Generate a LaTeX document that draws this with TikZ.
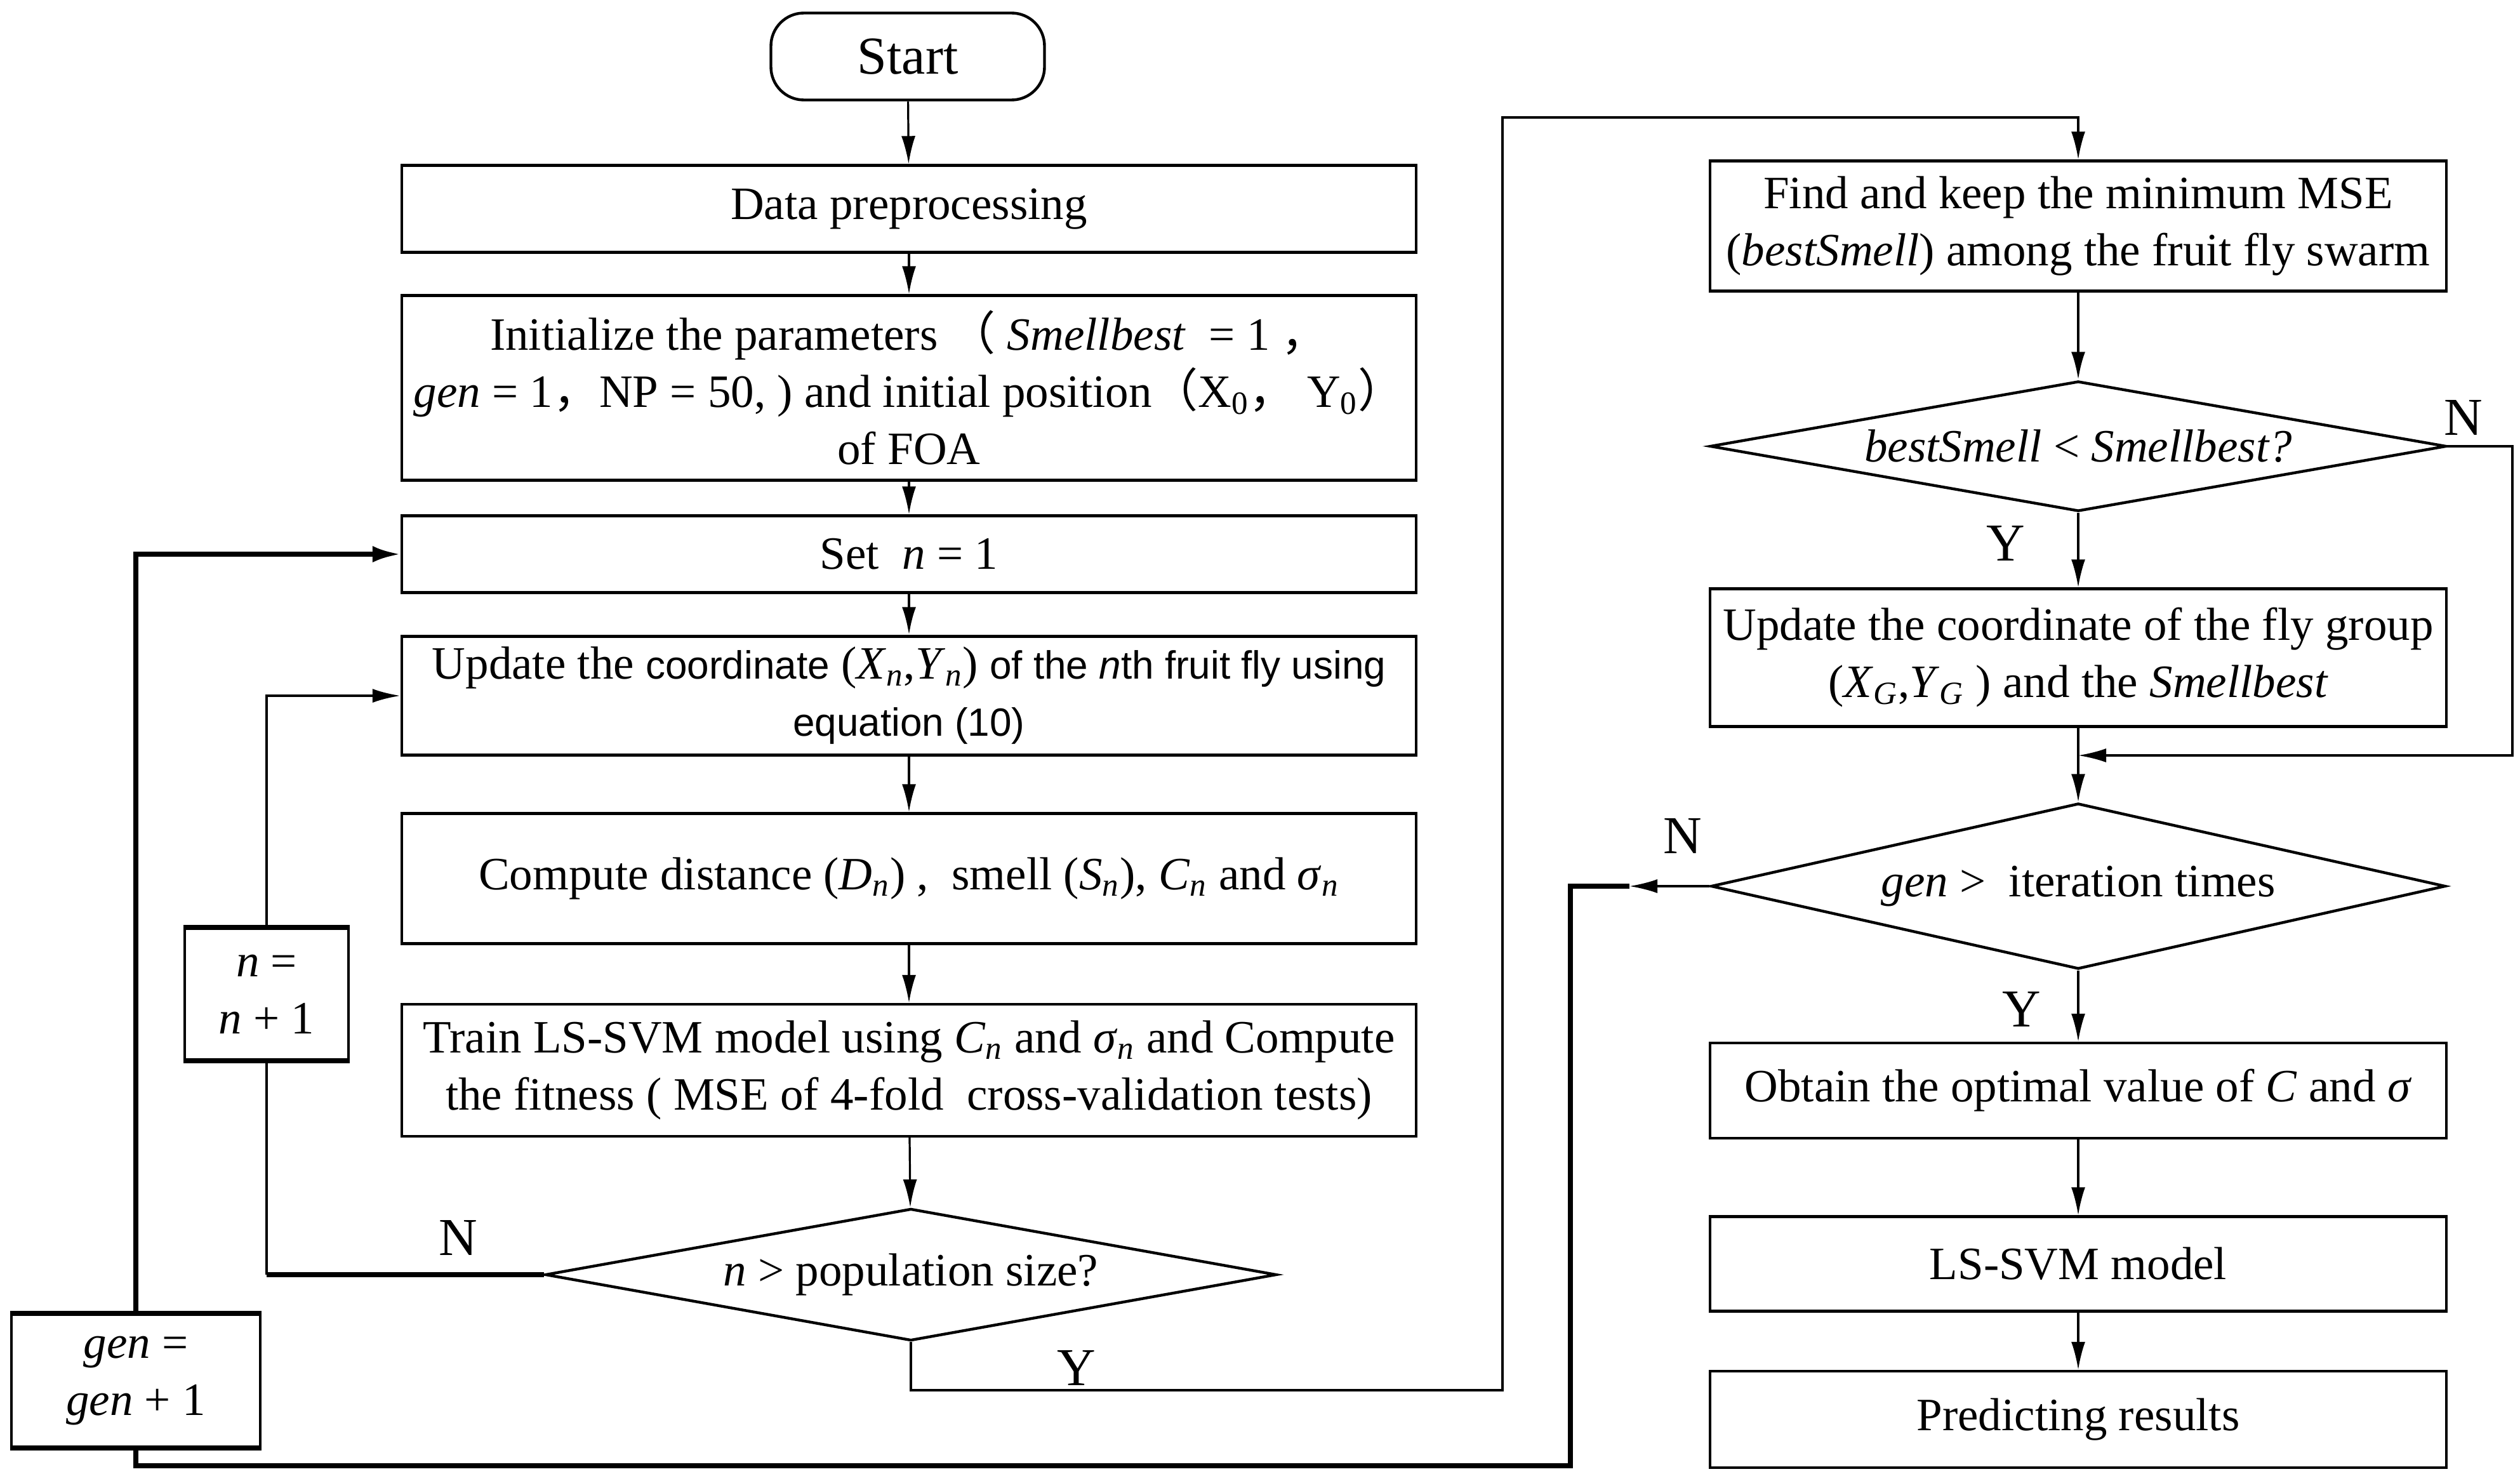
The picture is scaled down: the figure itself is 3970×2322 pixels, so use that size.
\documentclass[tikz,border=0pt]{standalone}
\usepackage{fontspec}
\setmainfont{Liberation Serif}
\newfontfamily\arial{Liberation Sans}
\newfontfamily\cjk{Noto Sans CJK SC}
\usetikzlibrary{shapes.geometric,arrows.meta}
\newcommand{\mainsz}{\fontsize{18.25pt}{22.5pt}\selectfont}
\newcommand{\sanssz}{\fontsize{15.5pt}{22.5pt}\selectfont\arial}
\newcommand{\lblsz}{\fontsize{21pt}{24pt}\selectfont}
\newcommand{\sub}[1]{\textsubscript{\textit{#1}}}
\begin{document}
\begin{tikzpicture}[x=0.25pt,y=-0.25pt,
  box/.style={draw, line width=1.1pt, align=center, inner sep=1pt, font=\mainsz},
  lbox/.style={box, minimum width=399.5pt},
  rbox/.style={box, minimum width=290pt},
  dia/.style={draw, diamond, line width=1.1pt, inner sep=0pt},
  dtext/.style={font=\mainsz, inner sep=0pt},
  arr/.style={draw, line width=0.8pt, -{Latex[length=11pt,width=5.5pt]}},
  bigarr/.style={draw, line width=1.8pt, -{Latex[length=11pt,width=6.5pt]}},
  thin/.style={draw, line width=0.8pt},
  thickln/.style={draw, line width=1.8pt},
  lbl/.style={font=\lblsz, inner sep=0pt}
]
\fill[white] (0,0) rectangle (3970,2322);
\useasboundingbox (0,0) rectangle (3970,2322);

% left column
\node[box, rounded corners=13pt, minimum width=107.75pt, minimum height=34.25pt, font=\fontsize{21pt}{24pt}\selectfont] (start) at (1430,89) {Start};
\node[lbox, minimum height=34.25pt] (data) at (1432,329) {Data preprocessing};
\node[lbox, minimum height=72.75pt] (init) at (1432,611) {Initialize the parameters {\cjk （} \textit{Smellbest}~ = 1 {\cjk ，}\\
\textit{gen} = 1{\cjk ，}NP = 50, ) and initial position{\cjk （}X\textsubscript{0}{\cjk ，} Y\textsubscript{0}{\cjk ）}\\ of FOA};
\node[lbox, minimum height=30.25pt] (set) at (1432,873) {Set~ \textit{n} = 1};
\node[lbox, minimum height=46.75pt] (upd) at (1432,1096) {Update the {\sanssz coordinate} (\textit{X}\sub{n},\textit{Y}\sub{n}) {\sanssz of the \textit{n}th fruit fly using}\\ {\sanssz equation (10)}};
\node[lbox, minimum height=51.25pt] (comp) at (1432,1384) {Compute distance (\textit{D}\sub{n}) ,~ smell (\textit{S}\sub{n}), \textit{C}\sub{n} and \textit{σ}\sub{n}};
\node[lbox, minimum height=52pt] (train) at (1432,1686) {Train LS-SVM model using \textit{C}\sub{n} and \textit{σ}\sub{n} and Compute\\ the fitness ( MSE of 4-fold~ cross-validation tests)};
\node[dia, minimum width=288pt, minimum height=52pt] (d1) at (1435,2008) {};
\node[dtext] (d1t) at (d1.center) {\textit{n} > population size?};
\node[box, minimum width=64.5pt, minimum height=51.5pt] (nbox) at (420,1566) {\textit{n} =\\ \textit{n} + 1};
\node[box, minimum width=98pt, minimum height=52pt] (gbox) at (214,2175) {\textit{gen} =\\ \textit{gen} + 1};
% heavier top and bottom edges of the two counter boxes
\draw[thickln] (nbox.north west) -- (nbox.north east);
\draw[thickln] (nbox.south west) -- (nbox.south east);
\draw[thickln] (gbox.north west) -- (gbox.north east);
\draw[thickln] (gbox.south west) -- (gbox.south east);

% right column
\node[rbox, minimum height=51.25pt] (find) at (3274,356) {Find and keep the minimum MSE\\ (\textit{bestSmell}) among the fruit fly swarm};
\node[dia, minimum width=290pt, minimum height=51.25pt] (d2) at (3274,703) {};
\node[dtext] (d2t) at (d2.center) {\textit{bestSmell} < \textit{Smellbest?}};
\node[rbox, minimum height=54.25pt] (updg) at (3274,1036) {Update the coordinate of the fly group\\ (\textit{X}\sub{G},\textit{Y}\sub{G} ) and the \textit{Smellbest}};
\node[dia, minimum width=289.25pt, minimum height=65.25pt] (d3) at (3274,1396) {};
\node[dtext] (d3t) at (d3.center) {\textit{gen} >~ iteration times};
\node[rbox, minimum height=37.5pt] (obt) at (3274,1718) {Obtain the optimal value of \textit{C} and \textit{σ}};
\node[rbox, minimum height=37.25pt] (lss) at (3274,1991) {LS-SVM model};
\node[rbox, minimum height=38pt] (pred) at (3274,2236) {Predicting results};

% coordinates
\coordinate (c1) at (420,2008);
\coordinate (y1) at (1435,2190);
\coordinate (y2) at (2367,2190);
\coordinate (y3) at (2367,185);
\coordinate (y4) at (3274,185);
\coordinate (n1) at (3958,703);
\coordinate (n2) at (3958,1190);
\coordinate (n3) at (3274,1190);
\coordinate (tip) at (2567,1396);
\coordinate (c2) at (2474,1396);
\coordinate (c3) at (2474,2309);
\coordinate (c4) at (214,2309);

% left connectors
\draw[arr] (start) -- (data);
\draw[arr] (data) -- (init);
\draw[arr] (init) -- (set);
\draw[arr, line width=1.1pt] (set) -- (upd);
\draw[arr] (upd) -- (comp);
\draw[arr] (comp) -- (train);
\draw[arr] (train) -- (d1);
\draw[thickln] (d1.west) -- (c1);
\draw[thin] (c1) -- (nbox.south);
\draw[arr, line width=1pt] (nbox.north) |- (upd.west);
\draw[bigarr] (gbox.north) |- (set.west);
\draw[arr] (d1.south) -- (y1) -- (y2) -- (y3) -- (y4) -- (find.north);

% right connectors
\draw[arr, line width=1.1pt] (find) -- (d2);
\draw[arr] (d2) -- (updg);
\draw[arr] (updg) -- (d3);
\draw[arr] (d2.east) -- (n1) -- (n2) -- (n3);
\draw[arr] (d3.west) -- (tip);
\draw[thickln] (tip) -- (c2) -- (c3) -- (c4) -- (gbox.south);
\draw[arr] (d3) -- (obt);
\draw[arr] (obt) -- (lss);
\draw[arr] (lss) -- (pred);

% labels
\node[lbl] (lN1) at (722,1950) {N};
\node[lbl] (lY1) at (1696,2155) {Y};
\node[lbl] (lN2) at (3881,658) {N};
\node[lbl] (lY2) at (3160,856) {Y};
\node[lbl] (lN3) at (2651,1317) {N};
\node[lbl] (lY3) at (3185,1590) {Y};
\end{tikzpicture}
\end{document}
